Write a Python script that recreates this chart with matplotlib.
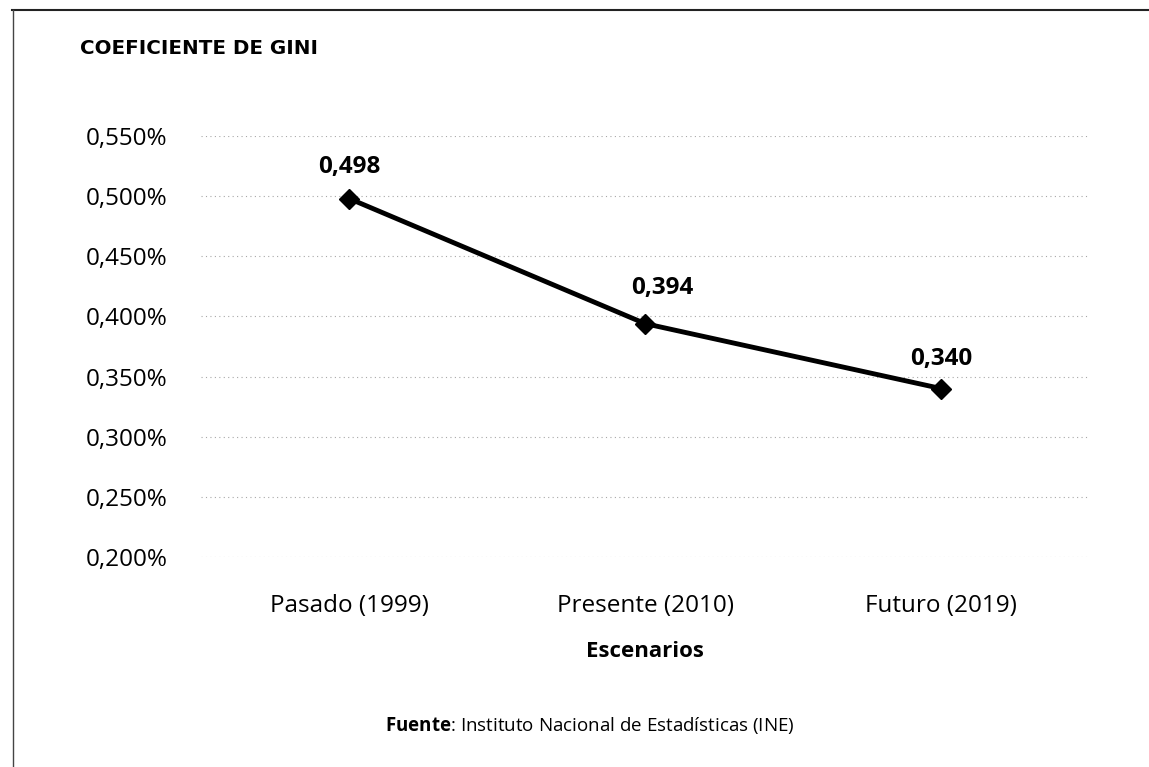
import numpy as np
import matplotlib.pyplot as plt
from matplotlib.lines import Line2D

plt.rcParams["mathtext.fontset"] = "custom"
plt.rcParams["mathtext.rm"] = "Open Sans"
plt.rcParams["mathtext.bf"] = "Open Sans:bold"

# data
escenarios = ["Pasado (1999)", "Presente (2010)", "Futuro (2019)"]
gini = [0.498, 0.394, 0.340]
etiquetas = ["0,498", "0,394", "0,340"]
y_ticks = [0.200, 0.250, 0.300, 0.350, 0.400, 0.450, 0.500, 0.550]

fig = plt.figure(figsize=(11.49, 7.67), dpi=100)
ax = fig.add_axes([0.175, 0.2738, 0.773, 0.5489])

x = np.arange(len(escenarios)) + 0.5
ax.plot(x, gini, color="black", lw=3.5, marker="D", markersize=10,
        markerfacecolor="black", markeredgecolor="black", zorder=3)

# value labels above the points
offsets = [(0, 23), (12, 26), (0, 21)]
for xi, yi, lab, off in zip(x, gini, etiquetas, offsets):
    ax.annotate(lab, (xi, yi), xytext=off, textcoords="offset points",
                ha="center", va="center", fontsize=17.5, fontweight="bold",
                family="Open Sans")

ax.set_xlim(0, len(escenarios))
ax.set_ylim(0.200, 0.550)
ax.set_yticks(y_ticks)
ax.set_yticklabels([f"{v:.3f}%".replace(".", ",") for v in y_ticks],
                   fontsize=17.5, family="Open Sans")
ax.set_xticks(x)
ax.set_xticklabels(escenarios, fontsize=17.5, family="Open Sans")
ax.tick_params(length=0, pad=24, axis="y")
ax.tick_params(length=0, pad=26.5, axis="x")
for s in ax.spines.values():
    s.set_visible(False)
ax.grid(axis="y", color="#a8a8a8", linestyle=(0, (1, 3)), lw=0.8)
ax.set_axisbelow(True)

ax.set_xlabel("Escenarios", fontsize=16, fontweight="bold", family="Open Sans",
              labelpad=17)

fig.text(80 / 1149, 1 - 49 / 767, "COEFICIENTE DE GINI", fontsize=14.3,
         fontweight="bold", family="DejaVu Sans", va="center", ha="left")

fig.text(590 / 1149, 1 - 725 / 767, r"$\bf{Fuente}$: Instituto Nacional de Estadísticas (INE)",
         fontsize=13.5, family="Open Sans", ha="center", va="center")

# scanned frame lines
fig.add_artist(Line2D([12 / 1149, 1], [1 - 10 / 767, 1 - 10 / 767],
                      color="#222222", lw=1.5, transform=fig.transFigure))
fig.add_artist(Line2D([13 / 1149, 13 / 1149], [0, 1 - 10 / 767],
                      color="#444444", lw=1.0, transform=fig.transFigure))

fig.savefig("out.png", dpi=100, facecolor="white")
